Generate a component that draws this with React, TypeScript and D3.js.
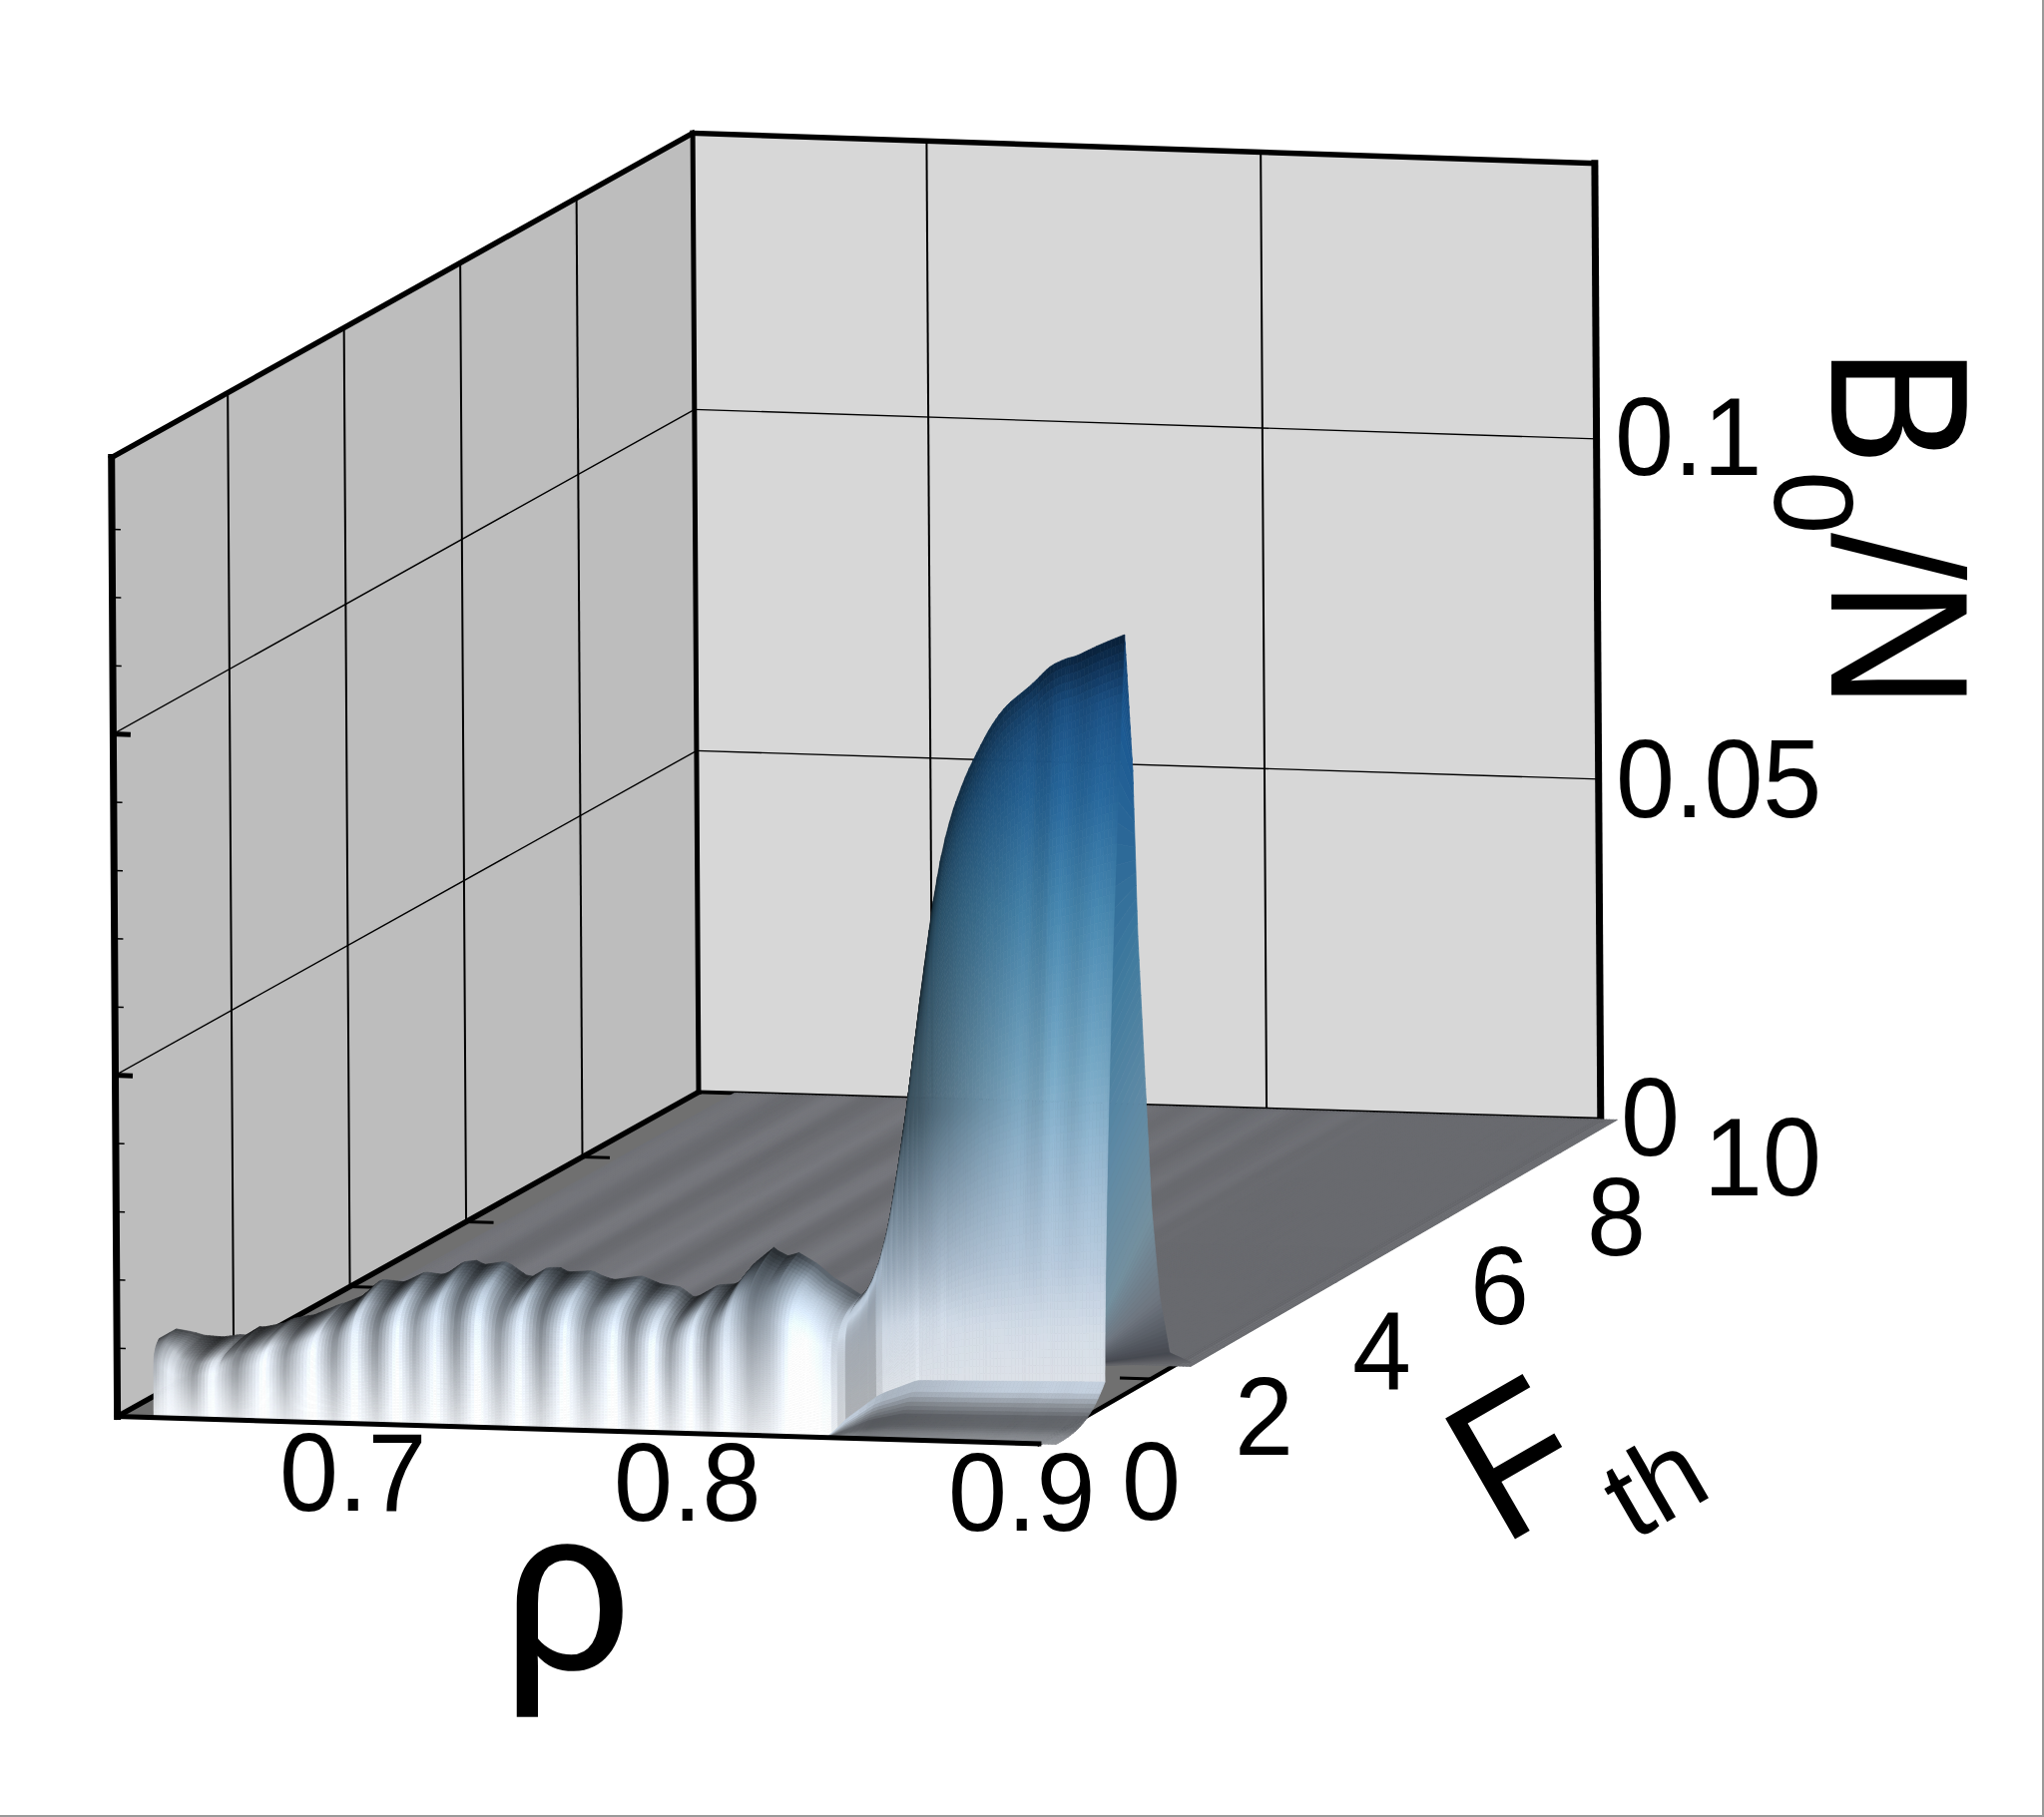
import React, { useMemo } from "react";
import * as d3 from "d3";

const rhoDomain = [0.63, 0.9];
const fDomain = [0, 10];
const bDomain = [0, 0.1405];
const rhoGrid = [0.7, 0.8];
const fGrid = [2, 4, 6, 8];
const bGrid = [0.05, 0.1];
const bMinor = [0.01, 0.02, 0.03, 0.04, 0.06, 0.07, 0.08, 0.09, 0.11, 0.12, 0.13];

// crest of the surface along rho: position, F of the crest, height of the crest
const crestRho = [0.6407, 0.6423, 0.6471, 0.6593, 0.6634, 0.6707, 0.6778, 0.6883, 0.6985, 0.7108, 0.719, 0.7272, 0.7374, 0.7436, 0.7518, 0.7641, 0.7804, 0.7907, 0.7992, 0.8053, 0.8144, 0.8185, 0.8217, 0.8319, 0.841, 0.8437, 0.8461, 0.8491, 0.8532, 0.8564, 0.8603, 0.8653, 0.8714, 0.8823, 0.887, 0.8902, 0.8978, 0.9051];
const crestF = [0.1, 0.3, 0.5, 0.5, 0.5, 0.5, 0.5, 0.5, 0.5, 0.5, 0.5, 0.5, 0.5, 0.5, 0.5, 0.5, 0.5, 0.5, 0.5, 0.5, 0.5, 0.5, 0.5, 0.5, 0.5, 0.6, 0.7, 0.8, 0.9, 0.95, 1, 1.05, 1.1, 1.15, 1.15, 1.2, 1.25, 1.3];
const crestB = [0.0113, 0.0117, 0.0098, 0.00995, 0.0115, 0.0119, 0.0133, 0.0149, 0.0183, 0.0195, 0.0203, 0.0222, 0.0213, 0.0201, 0.0215, 0.0202, 0.0199, 0.0178, 0.0193, 0.0206, 0.0256, 0.0244, 0.0247, 0.0205, 0.0182, 0.0193, 0.0278, 0.046, 0.0701, 0.0818, 0.0895, 0.0956, 0.1017, 0.1064, 0.1093, 0.109, 0.111, 0.1125];

// foot of the wall: flat apron in front of the peak
const footRho = [0.64, 0.838, 0.841, 0.845, 0.852, 0.905];
const footF = [0, 0, 0.15, 0.5, 0.75, 0.87];
const footB = [0, 0, 0.002, 0.004, 0.005, 0.005];

// lean of the flutes towards the crest
const leanRho = [0.64, 0.845, 0.86, 0.905];
const leanPow = [10, 10, 1.5, 1.5];

// brightness of the vertical flutes
const fluteRho = [0.6407, 0.6454, 0.6526, 0.6577, 0.6649, 0.6731, 0.6792, 0.6874, 0.6936, 0.6997, 0.7059, 0.712, 0.7172, 0.7233, 0.7295, 0.7356, 0.7418, 0.7479, 0.7541, 0.7612, 0.7674, 0.7756, 0.7807, 0.7869, 0.792, 0.7981, 0.8032, 0.8084, 0.8156, 0.8217, 0.8275, 0.832, 0.8365, 0.8422, 0.846, 0.85, 0.855, 0.862, 0.87, 0.88, 0.885, 0.89, 0.895, 0.9, 0.905];
const fluteGain = [0.72, 1.02, 0.62, 1.1, 0.6, 1.16, 0.66, 1.18, 0.62, 1.16, 0.58, 1.2, 0.7, 1.16, 0.58, 1.2, 0.64, 1.16, 0.58, 1.2, 0.68, 1.2, 0.62, 1.2, 0.66, 1.16, 0.62, 1.12, 0.64, 0.82, 1.22, 1.22, 1.12, 0.9, 0.4, 0.45, 0.55, 0.7, 0.82, 0.95, 0.9, 1, 0.92, 1, 0.96];

// streaks on the flat part of the surface
const streakRho = [0.64, 0.645, 0.65, 0.655, 0.66, 0.665, 0.67, 0.675, 0.68, 0.685, 0.69, 0.695, 0.7, 0.705, 0.71, 0.715, 0.72, 0.725, 0.73, 0.735, 0.74, 0.745, 0.75, 0.755, 0.76, 0.765, 0.77, 0.775, 0.78, 0.785, 0.79, 0.795, 0.8, 0.805, 0.81, 0.815, 0.82, 0.825, 0.83, 0.835, 0.84, 0.905];
const streakGain = [1.08, 1.14, 1.14, 1.03, 1.0, 1.06, 1.18, 1.15, 1.0, 1.02, 1.12, 1.13, 1.2, 1.08, 1.0, 1.03, 1.16, 1.18, 1.03, 1.0, 1.09, 1.17, 1.13, 1.01, 1.0, 1.12, 1.06, 1.01, 1.08, 1.13, 1.03, 0.99, 1.06, 1.12, 1.01, 1.0, 1.05, 1.09, 1.0, 1.02, 1, 1];

// right-hand flank of the peak at the edge of the surface
const flankFoldB = [0.1125, 0.103, 0.061, 0.035, 0.0147, 0.0105, 0.008, 0.0075];
const flankFoldF = [1.3, 1.18, 0.97, 0.89, 0.85, 0.85, 0.85, 0.85];
const flankBackB = [0.1125, 0.0921, 0.0679, 0.045, 0.026, 0.0129, 0.0038, 0.0006];
const flankBackF = [1.3, 1.43, 1.5, 1.62, 1.72, 1.85, 2.02, 2.4];
const flankColors = ["#103f70", "#1d5b93", "#3f7a9e", "#5f8aa5", "#74909f", "#6e757f", "#45484f", "#65666b"];

// colour map on height
const mapB = [0, 0.012, 0.022, 0.036, 0.05, 0.073, 0.09, 0.103, 0.109, 0.116];
const mapColors = ["#f8fbff", "#dfe8f3", "#bccfe2", "#98b8d0", "#74a4c0", "#4583aa", "#266497", "#1c5388", "#123c69", "#0b2745"];

// colour across the apron, front edge to the foot of the wall
const apronQ = [0, 0.25, 0.45, 0.62, 0.78, 0.92];
const apronColors = ["#909398", "#83868b", "#65686d", "#62656a", "#8e949c", "#c3cfdd"];

const rhoLabels = ["0.7", "0.8", "0.9"];
const rhoLabelPos = [[280, 1514], [615, 1524], [950, 1534]];
const fLabels = ["0", "2", "4", "6", "8", "10"];
const fLabelPos = [[1124, 1523], [1237, 1458], [1355, 1392], [1473, 1327], [1590, 1258], [1707, 1198]];
const bLabels = ["0", "0.05", "0.1"];
const bLabelPos = [[1624, 1158], [1619, 819], [1618, 476]];

const uS = d3.scaleLinear().domain(rhoDomain).range([0, 1]);
const vS = d3.scaleLinear().domain(fDomain).range([0, 1]);
const wS = d3.scaleLinear().domain(bDomain).range([0, 1]);

const project = (rho: number, f: number, b: number): [number, number] => {
  const u = uS(rho), v = vS(f), w = wS(b);
  const ux = 923.3 + (903.8 - 923.3) * v;
  const uy = 27.4;
  const h = 961 * (1 - 0.003 * u * v);
  return [117.6 + u * ux + v * 582.4 - w * 5.9, 1419.6 + u * uy - v * 325.2 - w * h];
};

const line = (a: [number, number], b: [number, number], w: number, key: string) => (
  <line key={key} x1={a[0]} y1={a[1]} x2={b[0]} y2={b[1]} stroke="#000" strokeWidth={w} strokeLinecap="square" />
);

const pts = (list: [number, number][]) => list.map((p) => `${p[0].toFixed(1)},${p[1].toFixed(1)}`).join(" ");

const colorOf = d3.scaleLinear<string>().domain(mapB).range(mapColors).interpolate(d3.interpolateRgb).clamp(true);
const apronOf = d3.scaleLinear<string>().domain(apronQ).range(apronColors).interpolate(d3.interpolateRgb).clamp(true);

const shaded = (c: string, s: number) => {
  const q = d3.rgb(c);
  return `rgb(${Math.min(255, q.r * s) | 0},${Math.min(255, q.g * s) | 0},${Math.min(255, q.b * s) | 0})`;
};

type Poly = { p: string; c: string };

function buildFloor(): Poly[] {
  const gain = d3.scaleLinear().domain(streakRho).range(streakGain).clamp(true);
  const out: Poly[] = [];
  const cols = d3.range(0.6407, 0.9051, 0.001);
  const fs = d3.range(0, 10);
  cols.forEach((rho, i) => {
    const next = cols[i + 1] ?? 0.905;
    const start = rho > 0.85 ? 2.4 : 0.2;
    const g0 = (gain(rho - 0.001) + 2 * gain(rho) + gain(rho + 0.001)) / 4;
    fs.forEach((f) => {
      const a = Math.max(f, start), b = f + 1;
      if (a >= b) return;
      const g = 1 + (g0 - 1) * (1 - 0.035 * f);
      const c = shaded("#696a6f", g);
      out.push({ p: pts([project(rho, a, 0), project(next, a, 0), project(next, b, 0), project(rho, b, 0)]), c });
    });
  });
  return out;
}

function buildFlank(): Poly[] {
  const out: Poly[] = [];
  const n = 90;
  const idx = d3.range(flankFoldB.length);
  const fb = d3.scaleLinear().domain(idx).range(flankFoldB);
  const ff = d3.scaleLinear().domain(idx).range(flankFoldF);
  const bb = d3.scaleLinear().domain(idx).range(flankBackB);
  const bf = d3.scaleLinear().domain(idx).range(flankBackF);
  const cc = d3.scaleLinear<string>().domain(idx).range(flankColors).interpolate(d3.interpolateRgb);
  for (let r = 0; r < n; r++) {
    const i0 = (r / n) * 7, i1 = ((r + 1) / n) * 7;
    const rho = 0.9051;
    out.push({
      p: pts([project(rho, ff(i0), fb(i0)), project(rho, bf(i0), bb(i0)), project(rho, bf(i1), bb(i1)), project(rho, ff(i1), fb(i1))]),
      c: cc(i0),
    });
  }
  return out;
}

function buildFace(): Poly[] {
  const cF = d3.scaleLinear().domain(crestRho).range(crestF).clamp(true);
  const cB = d3.scaleLinear().domain(crestRho).range(crestB).clamp(true);
  const fF = d3.scaleLinear().domain(footRho).range(footF).clamp(true);
  const fB = d3.scaleLinear().domain(footRho).range(footB).clamp(true);
  const lean = d3.scaleLinear().domain(leanRho).range(leanPow).clamp(true);
  const flute = d3.scaleLinear().domain(fluteRho).range(fluteGain).clamp(true);
  const fluted = (rho: number) => (flute(rho - 0.0005) + 2 * flute(rho) + flute(rho + 0.0005)) / 4;
  const peakH = (rho: number) => (cB(rho - 0.003) + cB(rho - 0.0015) + cB(rho) + cB(rho + 0.0015) + cB(rho + 0.003)) / 5;
  const cols = Array.from(new Set([...d3.range(0.6407, 0.9051, 0.001), ...crestRho])).sort((a, b) => a - b);
  const nLow = 20, nHigh = 90;
  const rowAt = (rho: number, r: number): [number, number, number] => {
    const foot = fF(rho), fb = fB(rho), top = Math.max(foot, cF(rho));
    const h = rho < 0.84 ? cB(rho) * (1 + 0.08 * (fluted(rho) - 0.95)) : rho > 0.902 ? cB(rho) : peakH(rho);
    if (r <= nLow) {
      const q = r / nLow;
      return [rho, foot * q, fb * q * q * q];
    }
    const t = (r - nLow) / nHigh;
    return [rho, foot + (top - foot) * Math.pow(t, lean(rho)), fb + (h - fb) * t];
  };
  const out: Poly[] = [];
  const L = [0.3, -0.85, 0.42];
  for (let i = 0; i < cols.length - 1; i++) {
    const r0 = cols[i], r1 = cols[i + 1];
    const mid = (r0 + r1) / 2;
    const g = fluted(mid);
    for (let r = nLow + nHigh - 1; r >= 0; r--) {
      const a = rowAt(r0, r), b = rowAt(r1, r), c = rowAt(r1, r + 1), d = rowAt(r0, r + 1);
      if (r < nLow && fF(mid) === 0) continue;
      const poly = pts([project(...a), project(...b), project(...c), project(...d)]);
      if (r < nLow) {
        const q = (r + 0.5) / nLow;
        out.push({ p: poly, c: shaded(apronOf(q), 1 + (g - 0.95) * 0.22) });
        continue;
      }
      const sp = (q: [number, number, number]) => [uS(q[0]), vS(q[1]) * 0.75, wS(q[2]) * 0.9];
      const A = sp(a), B = sp(b), C = sp(c), D = sp(d);
      const e1 = [C[0] - A[0], C[1] - A[1], C[2] - A[2]];
      const e2 = [D[0] - B[0], D[1] - B[1], D[2] - B[2]];
      let n = [e1[1] * e2[2] - e1[2] * e2[1], e1[2] * e2[0] - e1[0] * e2[2], e1[0] * e2[1] - e1[1] * e2[0]];
      const len = Math.hypot(n[0], n[1], n[2]) || 1;
      n = n.map((x) => x / len);
      if (n[2] < 0) n = n.map((x) => -x);
      const dot = n[0] * L[0] + n[1] * L[1] + n[2] * L[2];
      let s = Math.max(0.4, Math.min(1.05, 1.18 * dot));
      const t = (r - nLow) / nHigh;
      const h = (a[2] + c[2]) / 2;
      if (mid < 0.84) {
        s *= 1 + (g - 1) * (0.25 + t);
        s *= 1 - 0.32 * Math.pow(t, 4);
      } else {
        s *= 1 + (g - 1) * Math.max(0, Math.min(1, (h - 0.014) / 0.03));
        s *= 0.9 + 0.1 * Math.min(1, h / 0.04);
      }
      s *= 1 - 0.45 * Math.pow(t, 18);
      out.push({ p: poly, c: shaded(colorOf(h), s) });
    }
  }
  return out;
}

const digit = { fontFamily: "'Liberation Sans', Arial, sans-serif", fontSize: 106, fill: "#000" } as const;
const title = { fontFamily: "'Liberation Sans', Arial, sans-serif", fill: "#000" } as const;

export default function App() {
  const floor = useMemo(buildFloor, []);
  const flank = useMemo(buildFlank, []);
  const face = useMemo(buildFace, []);
  const [rMin, rMax] = rhoDomain;
  const [fMin, fMax] = fDomain;
  const [, bMax] = bDomain;
  const tickU = (f: number, b: number, len: number, w: number, key: string, dir = 1, rho = rMin) => {
    const a = project(rho, f, b);
    return line(a, [a[0] + dir * len, a[1] + dir * len * 0.03], w, key);
  };
  const label = (t: string, pos: number[]) => (
    <text key={t + pos[0]} transform={`translate(${pos[0]},${pos[1]}) scale(1,1.05)`} {...digit}>{t}</text>
  );
  return (
    <svg width={2048} height={1821} viewBox="0 0 2048 1821" style={{ position: "absolute", left: 0, top: 0, background: "#fff" }}>
      <line x1={2047} y1={0} x2={2047} y2={1821} stroke="#999" strokeWidth={2} />
      <line x1={0} y1={1820} x2={2048} y2={1820} stroke="#999" strokeWidth={2} />
      {/* walls and floor of the box */}
      <polygon points={pts([project(rMin, fMax, 0), project(rMax, fMax, 0), project(rMax, fMax, bMax), project(rMin, fMax, bMax)])} fill="#d7d7d7" />
      <polygon points={pts([project(rMin, fMin, 0), project(rMin, fMax, 0), project(rMin, fMax, bMax), project(rMin, fMin, bMax)])} fill="#bdbdbd" />
      <polygon points={pts([project(rMin, fMin, 0), project(rMax, fMin, 0), project(rMax, fMax, 0), project(rMin, fMax, 0)])} fill="#707070" />
      {/* grid */}
      <g>
        {rhoGrid.map((r) => line(project(r, fMax, 0), project(r, fMax, bMax), 2, `r${r}`))}
        {fGrid.map((f) => line(project(rMin, f, 0), project(rMin, f, bMax), 2, `f${f}`))}
        {bGrid.map((b) => line(project(rMin, fMax, b), project(rMax, fMax, b), 1.4, `bb${b}`))}
        {bGrid.map((b) => line(project(rMin, fMin, b), project(rMin, fMax, b), 1.4, `bl${b}`))}
      </g>
      {/* ticks */}
      <g>
        {bGrid.map((b) => tickU(0, b, 15, 5, `tb${b}`))}
        {bMinor.map((b) => tickU(0, b, 8, 1.5, `tm${b}`))}
        {fGrid.map((f) => tickU(f, 0, 26, 3, `tf${f}`))}
        {tickU(2, 0, 30, 3, "tr2", -1, rMax)}
      </g>
      {/* frame */}
      <g>
        {line(project(rMin, fMax, 0), project(rMin, fMax, bMax), 5, "e1")}
        {line(project(rMax, fMax, 0), project(rMax, fMax, bMax), 7, "e2")}
        {line(project(rMin, fMin, 0), project(rMin, fMin, bMax), 7, "e3")}
        {line(project(rMin, fMax, bMax), project(rMax, fMax, bMax), 5.5, "e4")}
        {line(project(rMin, fMin, bMax), project(rMin, fMax, bMax), 5.5, "e5")}
        {line(project(rMin, fMax, 0), project(rMax, fMax, 0), 4, "e6")}
        {line(project(rMin, fMin, 0), project(rMin, fMax, 0), 5.5, "e7")}
        {line(project(rMax, fMin, 0), project(rMax, fMax, 0), 4.5, "e8")}
      </g>
      {/* surface */}
      <g>
        {floor.map((d, i) => <polygon key={i} points={d.p} fill={d.c} stroke={d.c} strokeWidth={0.7} />)}
        {flank.map((d, i) => <polygon key={i} points={d.p} fill={d.c} stroke={d.c} strokeWidth={0.7} />)}
        {face.map((d, i) => <polygon key={i} points={d.p} fill={d.c} stroke={d.c} strokeWidth={0.7} />)}
      </g>
      {line(project(rMin, fMin, 0), project(rMax, fMin, 0), 5, "e9")}
      {/* tick labels */}
      {rhoLabels.map((t, i) => label(t, rhoLabelPos[i]))}
      {fLabels.map((t, i) => label(t, fLabelPos[i]))}
      {bLabels.map((t, i) => label(t, bLabelPos[i]))}
      {/* axis titles */}
      <text transform="translate(504,1672) scale(1,1.02)" fontSize={225} stroke="#000" strokeWidth={1.5} {...title}>ρ</text>
      <text transform="translate(1505,1550) rotate(-30) scale(0.9,1)" fontSize={203} {...title}>F</text>
      <text transform="translate(1636,1545) rotate(-30)" fontSize={114} {...title}>th</text>
      <text transform="translate(1835,347) rotate(90) scale(0.92,1)" fontSize={196} {...title}>B</text>
      <text transform="translate(1778,472) rotate(90)" fontSize={114} {...title}>0</text>
      <text transform="translate(1836,534) rotate(90) scale(0.92,1)" fontSize={186} {...title}>/</text>
      <text transform="translate(1835,581) rotate(90) scale(0.92,1)" fontSize={196} {...title}>N</text>
    </svg>
  );
}
